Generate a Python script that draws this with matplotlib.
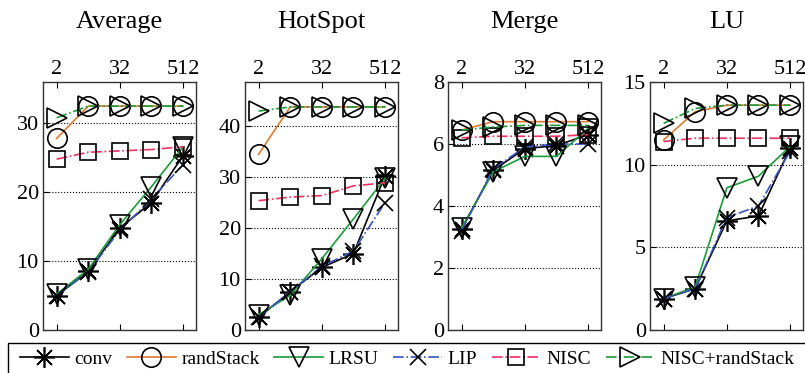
import matplotlib
matplotlib.use("Agg")
import matplotlib.pyplot as plt
from matplotlib.patches import Rectangle

plt.rcParams['font.family'] = ['Liberation Serif', 'DejaVu Serif']

# x axis: stack sizes
sizes = [2, 8, 32, 128, 512]
xtick_vals = [2, 32, 512]

titles = ["Average", "HotSpot", "Merge", "LU"]
series_names = ["conv", "randStack", "LRSU", "LIP", "NISC", "NISC+randStack"]

# values per benchmark, per series
avg_vals = {
    "conv": [5.0, 8.5, 14.8, 18.5, 25.3],
    "randStack": [27.8, 32.5, 32.5, 32.5, 32.5],
    "LRSU": [5.2, 8.8, 15.3, 20.8, 26.6],
    "LIP": [5.0, 8.4, 14.5, 19.0, 24.0],
    "NISC": [24.8, 25.8, 26.0, 26.2, 26.6],
    "NISC+randStack": [30.8, 32.5, 32.5, 32.5, 32.5],
}
hot_vals = {
    "conv": [2.5, 7.5, 12.3, 15.0, 30.3],
    "randStack": [34.5, 43.8, 43.8, 43.8, 43.8],
    "LRSU": [3.0, 6.8, 14.0, 21.8, 29.8],
    "LIP": [2.5, 7.5, 12.5, 15.5, 25.0],
    "NISC": [25.4, 26.1, 26.4, 28.3, 28.9],
    "NISC+randStack": [43.0, 43.8, 43.8, 43.8, 43.8],
}
merge_vals = {
    "conv": [3.25, 5.15, 5.85, 5.95, 6.3],
    "randStack": [6.45, 6.72, 6.72, 6.72, 6.72],
    "LRSU": [3.3, 5.1, 5.6, 5.6, 6.5],
    "LIP": [3.2, 5.2, 5.9, 6.0, 6.0],
    "NISC": [6.2, 6.25, 6.25, 6.25, 6.3],
    "NISC+randStack": [6.45, 6.55, 6.6, 6.6, 6.6],
}
lu_vals = {
    "conv": [1.9, 2.5, 6.6, 6.9, 11.0],
    "randStack": [11.5, 13.2, 13.6, 13.6, 13.6],
    "LRSU": [1.9, 2.6, 8.6, 9.3, 11.1],
    "LIP": [1.9, 2.5, 6.8, 7.5, 10.8],
    "NISC": [11.4, 11.6, 11.6, 11.6, 11.6],
    "NISC+randStack": [12.5, 13.4, 13.6, 13.6, 13.6],
}
all_vals = [avg_vals, hot_vals, merge_vals, lu_vals]
ylims = [36, 48.7, 8, 15]
yticks = [[0, 10, 20, 30], [0, 10, 20, 30, 40], [0, 2, 4, 6, 8], [0, 5, 10, 15]]

styles = {
    "conv": dict(color="black", ls="-", marker=(8, 2, 0), ms=15),
    "randStack": dict(color="#e07a30", ls="-", marker="o", ms=14),
    "LRSU": dict(color="#1a9a3a", ls="-", marker="v", ms=15),
    "LIP": dict(color="#3a55c0", ls="-.", marker="x", ms=12),
    "NISC": dict(color="#f03060", ls="-.", marker="s", ms=11),
    "NISC+randStack": dict(color="#1a9a3a", ls="-.", marker=">", ms=15),
}

W, H = 805, 373
fig = plt.figure(figsize=(W / 100, H / 100), dpi=100)
lefts = [43, 245, 448, 650]
handles = []
for i in range(4):
    ax = fig.add_axes([lefts[i] / W, 1 - 330 / H, 153 / W, 248 / H])
    for name in series_names:
        st = styles[name]
        h, = ax.plot(sizes, all_vals[i][name], color=st["color"], ls=st["ls"], lw=1.2,
                     marker=st["marker"], ms=st["ms"], mfc="none", mec="black", mew=1.2)
        if i == 0:
            handles.append(h)
    ax.set_xscale("log", base=2)
    ax.set_xlim(2 ** 0.14, 2 ** 9.82)
    ax.set_ylim(0, ylims[i])
    ax.set_xticks(xtick_vals)
    ax.set_xticklabels([str(v) for v in xtick_vals])
    ax.minorticks_off()
    ax.set_yticks(yticks[i])
    ax.xaxis.tick_top()
    ax.tick_params(axis="x", which="both", top=True, bottom=True, direction="in",
                   labelsize=16, pad=2, length=4)
    ax.tick_params(axis="y", direction="in", labelsize=16, pad=3, length=4)
    ax.yaxis.grid(True, ls=":", color="black", lw=0.8)
    ax.set_axisbelow(True)
    for sp in ax.spines.values():
        sp.set_color("#333333")
        sp.set_linewidth(1.0)
    ax.set_title(titles[i], fontsize=19, y=(330 - 28) / 248, pad=0)

# legend frame runs off the right edge
fig.patches.append(Rectangle((8 / W, -0.05), 810 / W, 0.05 + 30 / H, transform=fig.transFigure,
                             fill=False, edgecolor="black", lw=1.0))
fig.legend(handles, series_names, loc="center left",
           bbox_to_anchor=(20 / W, 1 - 359 / H), ncol=6, fontsize=14, frameon=False,
           borderpad=0, borderaxespad=0, handlelength=2.5, handletextpad=0.3,
           columnspacing=0.75)

fig.savefig("out.png", dpi=100)
